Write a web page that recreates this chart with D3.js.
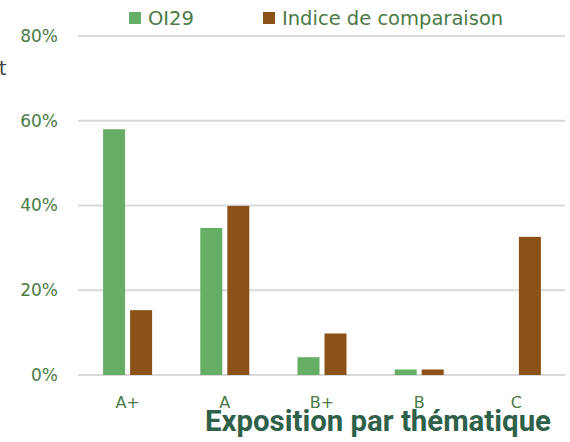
<!DOCTYPE html>
<html><head><meta charset="utf-8">
<script src="https://cdn.jsdelivr.net/npm/d3@7/dist/d3.min.js"></script>
<style>body{margin:0;background:#fff}svg{display:block}</style>
</head><body><svg id="c" width="570" height="442"></svg>
<script>
const categories = ["A+", "A", "B+", "B", "C"];
const seriesNames = ["OI29", "Indice de comparaison"];
const oi29 = [58, 34.7, 4.2, 1.3, 0];
const indice = [15.3, 39.9, 9.8, 1.3, 32.6];
const yTicks = [0, 20, 40, 60, 80];
const colors = ["#66ae66", "#8b5117"];
const textColor = "#4b7a45";
const font = "'DejaVu Sans', Verdana, sans-serif";

const svg = d3.select("#c");
const m = {l: 79, r: 5, t: 36, b: 67};
const W = 570, H = 442;
const x = d3.scaleBand().domain(categories).range([m.l, W - m.r]);
const y = d3.scaleLinear().domain([0, 80]).range([H - m.b, m.t]);
const sub = d3.scaleBand().domain([0, 1]).range([0, 49]).paddingInner(0.185);

// grid
svg.append("g").selectAll("line").data(yTicks).join("line")
  .attr("x1", m.l - 1).attr("x2", W - m.r)
  .attr("y1", d => y(d)).attr("y2", d => y(d))
  .attr("stroke", "#d9d9d9").attr("stroke-width", 2);

// y labels
const yAxis = d3.axisLeft(y).tickValues(yTicks).tickFormat(d => d + "%").tickSize(0).tickPadding(21);
const ga = svg.append("g").attr("transform", `translate(${m.l},0)`).call(yAxis);
ga.select(".domain").remove();
ga.selectAll("text").attr("fill", textColor).style("font-family", font).style("font-size", "17px");

// x labels
const xAxis = d3.axisBottom(x).tickSize(0).tickPadding(22);
const gx = svg.append("g").attr("transform", `translate(0,${H - m.b})`).call(xAxis);
gx.select(".domain").remove();
gx.selectAll("text").attr("fill", textColor).style("font-family", font).style("font-size", "16px");

// bars
const series = [oi29, indice];
series.forEach((vals, si) => {
  svg.append("g").selectAll("rect").data(vals.map((v, i) => ({v, c: categories[i]}))).join("rect")
    .attr("x", d => x(d.c) + x.bandwidth() / 2 - 24.5 + sub(si))
    .attr("width", sub.bandwidth())
    .attr("y", d => y(d.v))
    .attr("height", d => y(0) - y(d.v))
    .attr("fill", colors[si]);
});

// legend
const leg = [{n: seriesNames[0], x: 129}, {n: seriesNames[1], x: 263}];
leg.forEach((l, i) => {
  svg.append("rect").attr("x", l.x).attr("y", 12).attr("width", 12).attr("height", 12).attr("fill", colors[i]);
  svg.append("text").attr("x", l.x + 19).attr("y", 25).text(l.n)
    .attr("fill", textColor).style("font-family", font).style("font-size", "19.5px");
});

// cut-off axis title fragment
svg.append("text").attr("x", -1).attr("y", 75).text("t")
  .attr("fill", "#404040").style("font-family", font).style("font-size", "19px");

// title
svg.append("text").attr("x", 551).attr("y", 431).attr("text-anchor", "end").text("Exposition par thématique")
  .attr("fill", "#2f6049").style("font-family", "Roboto, sans-serif").style("font-weight", "bold").style("font-size", "29.4px");
</script></body></html>
